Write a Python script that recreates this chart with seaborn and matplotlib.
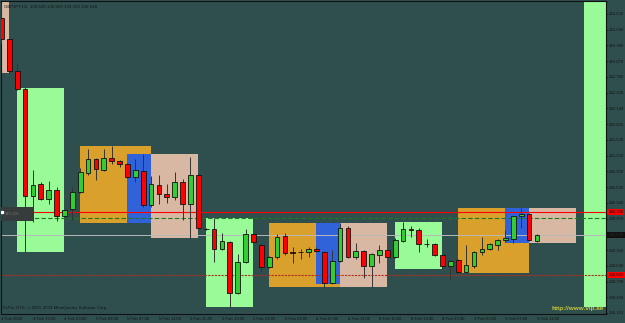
import matplotlib
matplotlib.use("Agg")
import matplotlib.pyplot as plt
import matplotlib.transforms as mtransforms
from matplotlib.patches import Rectangle
import numpy as np
import pandas as pd
import seaborn as sns

# ---------------- data (GBPJPY, H1) ----------------
opens = [143.92, 143.50, 142.88, 142.52, 140.41, 140.65, 140.35, 140.53, 140.03, 140.15,
         140.49, 140.86, 141.14, 140.92, 141.16, 141.10, 141.04, 140.78, 140.90, 140.23,
         140.63, 140.45, 140.39, 140.69, 140.25, 140.82, 139.76, 139.76, 139.37, 139.50,
         138.50, 139.11, 139.66, 139.44, 139.01, 139.21, 139.62, 139.31, 139.31, 139.31,
         139.38, 139.31, 138.71, 139.13, 139.78, 139.21, 139.33, 139.03, 139.25, 139.35,
         139.21, 139.52, 139.76, 139.74, 139.46, 139.46, 139.25, 139.03, 139.15, 138.91,
         139.03, 139.31, 139.38, 139.44, 139.54, 139.56, 140.02, 140.05, 139.52]
highs = [144.22, 143.52, 143.03, 142.56, 140.92, 140.69, 140.70, 140.59, 140.15, 140.59,
         140.96, 141.34, 141.16, 141.34, 141.40, 141.12, 141.06, 141.14, 141.24, 140.80,
         140.82, 140.65, 140.88, 140.74, 141.18, 140.84, 139.78, 139.98, 139.68, 139.52,
         139.27, 139.76, 139.68, 139.46, 139.23, 139.66, 139.68, 139.40, 139.37, 139.40,
         139.40, 139.33, 139.35, 139.88, 139.82, 139.48, 139.35, 139.29, 139.44, 139.37,
         139.58, 139.90, 139.82, 139.78, 139.56, 139.48, 139.27, 139.15, 139.17, 139.44,
         139.33, 139.60, 139.48, 139.56, 139.74, 140.03, 140.17, 140.07, 139.66]
lows = [143.41, 142.84, 142.50, 139.31, 139.90, 140.33, 140.25, 139.92, 140.00, 139.94,
        140.47, 140.82, 140.72, 140.90, 141.04, 140.98, 140.76, 140.69, 140.19, 140.19,
        140.25, 140.27, 140.33, 139.94, 139.58, 139.74, 139.74, 139.11, 139.35, 138.22,
        138.48, 139.09, 139.48, 138.91, 138.99, 139.17, 139.25, 139.09, 139.17, 139.21,
        139.31, 138.62, 138.69, 139.11, 139.19, 139.17, 138.79, 138.62, 139.09, 139.19,
        139.19, 139.50, 139.60, 139.31, 139.40, 139.23, 138.97, 138.75, 138.89, 138.89,
        138.99, 139.25, 139.35, 139.35, 139.50, 139.48, 139.78, 139.52, 139.50]
closes = [143.50, 142.88, 142.52, 140.41, 140.63, 140.35, 140.53, 140.03, 140.13, 140.49,
          140.88, 141.14, 140.94, 141.16, 141.10, 141.04, 140.78, 140.92, 140.23, 140.65,
          140.45, 140.39, 140.69, 140.25, 140.82, 139.78, 139.77, 139.37, 139.52, 138.50,
          139.11, 139.66, 139.50, 139.01, 139.21, 139.60, 139.29, 139.30, 139.32, 139.38,
          139.33, 138.71, 139.13, 139.78, 139.21, 139.33, 139.03, 139.27, 139.35, 139.21,
          139.54, 139.76, 139.75, 139.46, 139.47, 139.25, 139.03, 139.13, 138.91, 139.05,
          139.31, 139.38, 139.46, 139.54, 139.58, 140.02, 140.05, 139.54, 139.64]

time_tick_bars = [0, 4, 8, 12, 16, 20, 24, 28, 32, 36, 40, 44, 48, 52, 56, 60, 64, 68]
time_tick_labels = ["4 Feb 2010", "4 Feb 19:00", "4 Feb 23:00", "5 Feb 03:00", "5 Feb 07:00",
                    "5 Feb 11:00", "5 Feb 15:00", "5 Feb 19:00", "5 Feb 23:00", "8 Feb 03:00",
                    "8 Feb 07:00", "8 Feb 11:00", "8 Feb 15:00", "8 Feb 19:00", "8 Feb 23:00",
                    "9 Feb 03:00", "9 Feb 07:00", "9 Feb 11:00"]

price_ticks = [144.00, 143.69, 143.38, 143.07, 142.76, 142.45, 142.14, 141.83, 141.52, 141.21,
               140.90, 140.59, 140.28, 139.97, 139.66, 139.35, 139.04, 138.73, 138.42, 138.11]

# session boxes
box_start = [-1, 2, 10, 16, 19, 26, 34, 40, 43, 50, 58, 64, 67, 74]
box_end = [1, 8, 19, 19, 25, 32, 43, 43, 49, 56, 67, 67, 73, 78]
box_top = [144.23, 142.54, 141.40, 141.24, 141.24, 139.98, 139.88, 139.88, 139.88, 139.90,
           140.17, 140.17, 140.17, 144.23]
box_bottom = [142.84, 139.31, 139.88, 139.88, 139.58, 138.22, 138.62, 138.69, 138.62, 138.97,
              138.89, 139.48, 139.48, 138.22]
box_session = ["us", "asia", "europe", "overlap", "us", "asia", "europe", "overlap", "us",
               "asia", "europe", "overlap", "us", "asia"]

line_red = 140.10
line_green = 139.99
line_bid = 139.64
line_low = 138.86

# ---------------- styling ----------------
BG = "#2F4F4F"
session_colors = {"asia": "#98FB98", "europe": "#D9A02C", "overlap": "#3063DA", "us": "#D9B8A3"}

sns.set_theme(style="dark", rc={"axes.facecolor": BG, "figure.facecolor": BG,
                                "axes.edgecolor": "#111111", "savefig.facecolor": BG})
plt.rcParams["font.family"] = ["Liberation Sans", "DejaVu Sans"]

df = pd.DataFrame({"open": opens, "high": highs, "low": lows, "close": closes})
df["bar"] = np.arange(len(df))
df["bull"] = df["close"] >= df["open"]

fig = plt.figure(figsize=(6.25, 3.23), dpi=100)
ax = fig.add_axes([1 / 625, 9 / 323, 605 / 625, 313 / 323])
ax.set_facecolor(BG)

# session boxes
for s, e, t, b, k in zip(box_start, box_end, box_top, box_bottom, box_session):
    ax.add_patch(Rectangle((s, b), e - s, t - b, facecolor=session_colors[k],
                           edgecolor="none", zorder=1))

# horizontal level lines
ax.axhline(line_red, color="#FF0000", lw=0.8, zorder=2)
ax.axhline(line_green, color="#1F7A1F", lw=0.8, ls=(0, (4, 2)), zorder=2)
ax.axhline(line_bid, color="#B8B8B8", lw=0.7, zorder=2)
ax.axhline(line_low, color="#B03020", lw=0.8, ls=(0, (2, 1)), zorder=2)

# candles
ax.vlines(df["bar"], df["low"], df["high"], color="#333333", lw=0.7, zorder=3)
body_h = (df["close"] - df["open"]).abs()
ax.bar(df["bar"], body_h, bottom=df[["open", "close"]].min(axis=1), width=0.6,
       color=np.where(df["bull"], "#32CD32", "#FF0000"), edgecolor="#111111",
       linewidth=0.6, zorder=4)

# left object label
ax.add_patch(Rectangle((-0.1, 139.93), 4.1, 0.27, facecolor="#363C3C", edgecolor="none", zorder=5))
ax.text(0.4, 140.06, "140.100", fontsize=3, color="#6E6E6E", va="center", zorder=6)
ax.plot([0.05], [line_red], marker="s", ms=1.4, color="white", zorder=6)

ax.set_xlim(-0.05, 76.76)
ax.set_ylim(138.09, 144.255)

# axes / ticks
for sp in ax.spines.values():
    sp.set_color("#111111")
    sp.set_linewidth(0.8)
ax.yaxis.tick_right()
ax.set_yticks(price_ticks)
ax.set_yticklabels(["" if abs(v - line_bid) < 0.05 else f"{v:.3f}" for v in price_ticks])
ax.set_xticks(time_tick_bars)
ax.set_xticklabels(time_tick_labels, ha="left")
ax.tick_params(axis="both", colors="#111111", labelsize=3.1, length=1.5, width=0.5, pad=0.6)
ax.tick_params(axis="x", labelcolor="#151515")
ax.tick_params(axis="y", labelcolor="#151515")
ax.grid(False)

# price tags on the right axis
tr = mtransforms.blended_transform_factory(ax.transAxes, ax.transData)
ax.text(1.004, line_red, f"{line_red:.3f}", transform=tr, fontsize=3.1, color="#111111",
        va="center", ha="left", bbox=dict(facecolor="#FF0000", edgecolor="none", pad=0.7),
        zorder=7, clip_on=False)
ax.text(1.004, line_bid, f"{line_bid:.3f}", transform=tr, fontsize=3.1, color="#2A2A2A",
        va="center", ha="left", bbox=dict(facecolor="#101010", edgecolor="none", pad=0.7),
        zorder=7, clip_on=False)
ax.text(1.004, line_low, f"{line_low:.3f}", transform=tr, fontsize=3.1, color="#111111",
        va="center", ha="left", bbox=dict(facecolor="#FF0000", edgecolor="none", pad=0.7),
        zorder=7, clip_on=False)

# chart texts
last = df.iloc[-1]
ax.text(0.005, 0.988, f"GBPJPY,H1  {last['open']:.3f} {last['high']:.3f} {last['low']:.3f} {last['close']:.3f}",
        transform=ax.transAxes, fontsize=3.2, color="#151515", va="top", ha="left", zorder=8)
ax.text(0.004, 0.012, "FxPro GTS, \u00a9 2001-2009 MetaQuotes Software Corp.",
        transform=ax.transAxes, fontsize=3.2, color="#151515", va="bottom", ha="left", zorder=8)
ax.text(0.997, 0.008, "http://www.vip.ae", transform=ax.transAxes, fontsize=4.6,
        fontweight="bold", color="#C8C83A", va="bottom", ha="right", zorder=8)

fig.savefig("out.png", dpi=100, facecolor=BG)
